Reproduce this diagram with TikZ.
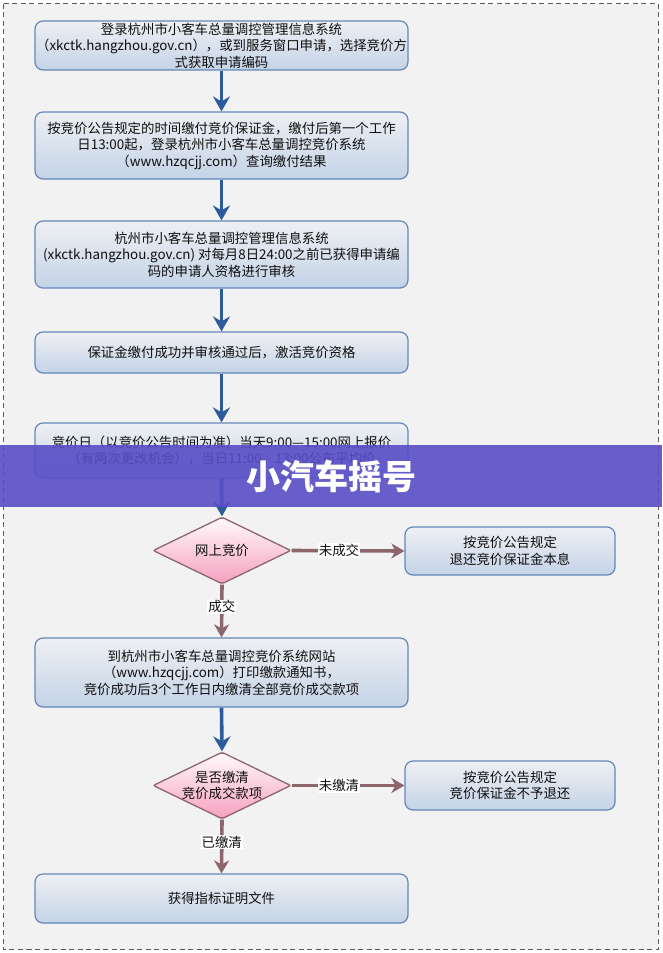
\documentclass[tikz,border=0pt]{standalone}
\usepackage{fontspec}
\setmainfont{Noto Sans CJK SC}
\usetikzlibrary{arrows.meta,shapes.geometric}
\definecolor{bgray}{RGB}{242,242,242}
\definecolor{dashc}{RGB}{90,90,90}
\definecolor{boxtop}{RGB}{238,240,243}
\definecolor{boxbot}{RGB}{196,211,231}
\definecolor{boxdraw}{RGB}{100,135,185}
\definecolor{bluearr}{RGB}{45,90,155}
\definecolor{mauve}{RGB}{140,102,108}
\definecolor{pinktop}{RGB}{255,250,252}
\definecolor{pinkbot}{RGB}{245,160,190}
\definecolor{txt}{RGB}{15,15,15}
\definecolor{banner}{RGB}{88,78,198}
\tikzset{
  x=1pt,y=-1pt,
  stepbox/.style={draw=boxdraw,line width=1.2pt,rounded corners=8pt,top color=boxtop,bottom color=boxbot,
    align=center,font=\fontsize{13.4}{16.5}\selectfont,text=txt,inner sep=0pt},
  decide/.style={diamond,draw=mauve,line width=1.3pt,rounded corners=2pt,top color=pinktop,bottom color=pinkbot,
    minimum width=138pt,minimum height=67pt,inner sep=0pt},
  dtext/.style={align=center,font=\fontsize{13.4}{16.5}\selectfont,text=txt,inner sep=0pt},
  barrow/.style={draw=bluearr,line width=3.6pt,-{Stealth[width=17pt,length=15pt,inset=5pt]}},
  marrow/.style={draw=mauve,line width=3.6pt,-{Stealth[width=15pt,length=13pt,inset=4pt]}},
  lab/.style={fill=white,inner sep=1pt,font=\fontsize{13.4}{15}\selectfont,text=txt},
}
\begin{document}
\begin{tikzpicture}
\useasboundingbox (0,0) rectangle (662,953);
\fill[white] (0,0) rectangle (662,953);
\draw[dashc,line width=0.8pt,dash pattern=on 5pt off 3.5pt,fill=bgray] (3.5,3.5) rectangle (658,949.5);

\node[stepbox,minimum width=373pt,minimum height=49pt] (b1) at (221.5,45.5)
  {登录杭州市小客车总量调控管理信息系统\\（xkctk.hangzhou.gov.cn），或到服务窗口申请，选择竞价方\\式获取申请编码};
\node[stepbox,minimum width=373pt,minimum height=67pt] (b2) at (221.5,145.5)
  {按竞价公告规定的时间缴付竞价保证金，缴付后第一个工作\\日13:00起，登录杭州市小客车总量调控竞价系统\\（www.hzqcjj.com）查询缴付结果};
\node[stepbox,minimum width=373pt,minimum height=67pt] (b3) at (221.5,254.5)
  {杭州市小客车总量调控管理信息系统\\(xkctk.hangzhou.gov.cn) 对每月8日24:00之前已获得申请编\\码的申请人资格进行审核};
\node[stepbox,minimum width=373pt,minimum height=41pt] (b4) at (221.5,352.5)
  {保证金缴付成功并审核通过后，激活竞价资格};
\node[stepbox,minimum width=373pt,minimum height=55pt] (b5) at (221.5,450.5)
  {竞价日（以竞价公告时间为准）当天9:00—15:00网上报价\\（有两次更改机会），当日11:00、13:00公布平均价};

\node[decide] (d1) at (222,550.5) {};
\node[dtext] (d1t) at (d1.center) {网上竞价};
\node[stepbox,minimum width=210pt,minimum height=48pt] (r1) at (510,551)
  {按竞价公告规定\\退还竞价保证金本息};

\node[stepbox,minimum width=373pt,minimum height=69pt] (b6) at (221.5,672.5)
  {到杭州市小客车总量调控竞价系统网站\\（www.hzqcjj.com）打印缴款通知书，\\竞价成功后3个工作日内缴清全部竞价成交款项};

\node[decide] (d2) at (222,785.5) {};
\node[dtext] (d2t) at (d2.center) {是否缴清\\竞价成交款项};
\node[stepbox,minimum width=210pt,minimum height=49pt] (r2) at (510,785.5)
  {按竞价公告规定\\竞价保证金不予退还};

\node[stepbox,minimum width=373pt,minimum height=49pt] (b7) at (221.5,898.5)
  {获得指标证明文件};

\draw[barrow] (b1.south) -- (b2.north);
\draw[barrow] (b2.south) -- (b3.north);
\draw[barrow] (b3.south) -- (b4.north);
\draw[barrow] (b4.south) -- (b5.north);
\draw[barrow] (b5.south) -- (d1.north);
\draw[marrow] (d1.east) -- node[lab,pos=0.42] {未成交} (r1.west);
\draw[marrow] (d1.south) -- node[lab,pos=0.42] {成交} (b6.north);
\draw[barrow] (b6.south) -- (d2.north);
\draw[marrow] (d2.east) -- node[lab,pos=0.42] {未缴清} (r2.west);
\draw[marrow] (d2.south) -- node[lab,pos=0.42] {已缴清} (b7.north);

\fill[banner,opacity=0.9] (0,445) rectangle (662,507);
\node[font=\fontsize{34}{36}\selectfont\bfseries,text=white,inner sep=0pt] (title) at (331,476) {小汽车摇号};
\end{tikzpicture}
\end{document}
